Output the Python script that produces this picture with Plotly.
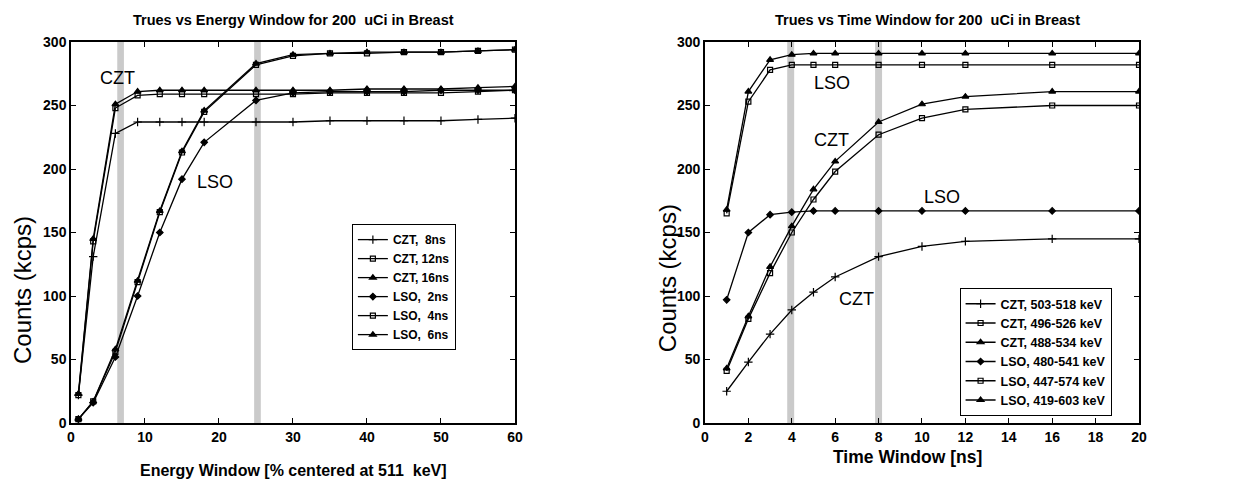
import plotly.graph_objects as go

# ---------------- data ----------------
energy_x = [1, 3, 6, 9, 12, 15, 18, 25, 30, 35, 40, 45, 50, 55, 60]
czt_8ns = [22, 131, 228, 237, 237, 237, 237, 237, 237, 238, 238, 238, 238, 239, 240]
czt_12ns = [22, 143, 248, 258, 259, 259, 259, 259, 259, 260, 260, 260, 260, 261, 262]
czt_16ns = [23, 145, 251, 261, 262, 262, 262, 262, 262, 262, 263, 263, 263, 264, 265]
lso_2ns = [3, 16, 52, 100, 150, 192, 221, 254, 260, 261, 261, 261, 262, 262, 262]
lso_4ns = [3, 17, 56, 111, 166, 213, 245, 282, 289, 291, 291, 292, 292, 293, 294]
lso_6ns = [3, 17, 58, 112, 167, 214, 246, 283, 290, 291, 292, 292, 292, 293, 294]

time_x = [1, 2, 3, 4, 5, 6, 8, 10, 12, 16, 20]
czt_503_518 = [25, 48, 70, 89, 103, 115, 131, 139, 143, 145, 145]
czt_496_526 = [41, 82, 118, 150, 176, 198, 227, 240, 247, 250, 250]
czt_488_534 = [43, 84, 123, 155, 184, 206, 237, 251, 257, 261, 261]
lso_480_541 = [97, 150, 164, 166, 167, 167, 167, 167, 167, 167, 167]
lso_447_574 = [165, 253, 278, 282, 282, 282, 282, 282, 282, 282, 282]
lso_419_603 = [168, 261, 286, 290, 291, 291, 291, 291, 291, 291, 291]

left_names = ["CZT,  8ns", "CZT, 12ns", "CZT, 16ns", "LSO,  2ns", "LSO,  4ns", "LSO,  6ns"]
right_names = ["CZT, 503-518 keV", "CZT, 496-526 keV", "CZT, 488-534 keV",
               "LSO, 480-541 keV", "LSO, 447-574 keV", "LSO, 419-603 keV"]
left_series = [czt_8ns, czt_12ns, czt_16ns, lso_2ns, lso_4ns, lso_6ns]
right_series = [czt_503_518, czt_496_526, czt_488_534, lso_480_541, lso_447_574, lso_419_603]

left_bands = [6.7, 25.2]
right_bands = [3.95, 8.0]

left_labels = [("CZT", 6.3, 272), ("LSO", 19.5, 190)]
right_labels = [("LSO", 5.85, 268), ("CZT", 5.85, 223), ("LSO", 10.9, 178), ("CZT", 7.0, 98)]

energy_ticks = [0, 10, 20, 30, 40, 50, 60]
time_ticks = [0, 2, 4, 6, 8, 10, 12, 14, 16, 18, 20]
count_ticks = [0, 50, 100, 150, 200, 250, 300]

left_title = "Trues vs Energy Window for 200  uCi in Breast"
right_title = "Trues vs Time Window for 200  uCi in Breast"
left_xtitle = "Energy Window [% centered at 511  keV]"
right_xtitle = "Time Window [ns]"
ytitle = "Counts (kcps)"

# ---------------- styles ----------------
symbols = ["cross-thin-open", "square-open", "triangle-up", "diamond", "square-open", "triangle-up"]
msizes = [6, 5, 6, 5, 5, 6]
FONT = "Liberation Sans, Arial, sans-serif"

fig = go.Figure()

for name, ys, sym, ms in zip(left_names, left_series, symbols, msizes):
    fig.add_trace(go.Scatter(
        x=energy_x, y=ys, name=name, mode="lines+markers",
        line=dict(color="black", width=1.3),
        marker=dict(symbol=sym, size=ms, color="black", line=dict(color="black", width=1.2)),
        xaxis="x", yaxis="y", legend="legend"))

for name, ys, sym, ms in zip(right_names, right_series, symbols, msizes):
    fig.add_trace(go.Scatter(
        x=time_x, y=ys, name=name, mode="lines+markers",
        line=dict(color="black", width=1.3),
        marker=dict(symbol=sym, size=ms, color="black", line=dict(color="black", width=1.2)),
        xaxis="x2", yaxis="y2", legend="legend2"))

shapes = []
for b in left_bands:
    shapes.append(dict(type="rect", xref="x", yref="y", x0=b - 0.45, x1=b + 0.45, y0=0, y1=300,
                       fillcolor="rgba(150,150,150,0.5)", line=dict(width=0), layer="below"))
for b in right_bands:
    shapes.append(dict(type="rect", xref="x2", yref="y2", x0=b - 0.16, x1=b + 0.16, y0=0, y1=300,
                       fillcolor="rgba(150,150,150,0.5)", line=dict(width=0), layer="below"))

annotations = []
for t, x, y in left_labels:
    annotations.append(dict(text=t, x=x, y=y, xref="x", yref="y", showarrow=False,
                            font=dict(size=18, color="black", family=FONT)))
for t, x, y in right_labels:
    annotations.append(dict(text=t, x=x, y=y, xref="x2", yref="y2", showarrow=False,
                            font=dict(size=18, color="black", family=FONT)))

def txt(text, x, y, size, bold=True, angle=0):
    return dict(text=text, x=x, y=y, xref="paper", yref="paper", xanchor="center", yanchor="middle",
                showarrow=False, textangle=angle,
                font=dict(size=size, color="black", family=FONT, weight="bold" if bold else "normal"))

annotations += [
    txt(left_title, 0.2079, 1.0577, 14.5),
    txt(right_title, 0.8015, 1.0577, 14.5),
    txt(left_xtitle, 0.2079, -0.1234, 16),
    txt(right_xtitle, 0.7828, -0.0892, 17.5),
    txt(ytitle, -0.0459, 0.349, 24, bold=False, angle=-90),
    txt(ytitle, 0.558, 0.380, 24, bold=False, angle=-90),
]

axis_common = dict(showline=True, linecolor="black", linewidth=1.5, mirror="ticks", ticks="inside",
                   ticklen=5, tickcolor="black", showgrid=False, zeroline=False, automargin=False,
                   tickfont=dict(size=14, color="black", family=FONT, weight="bold"))

fig.update_layout(
    width=1249, height=472,
    margin=dict(l=63, r=118, t=34, b=57),
    paper_bgcolor="white", plot_bgcolor="white",
    font=dict(family=FONT, color="black"),
    showlegend=True,
    shapes=shapes, annotations=annotations,
    xaxis=dict(domain=[0, 0.4157], range=[0, 60], tickvals=energy_ticks, anchor="y", **axis_common),
    yaxis=dict(domain=[0, 1], range=[0, 300], tickvals=count_ticks, anchor="x", **axis_common),
    xaxis2=dict(domain=[0.5936, 1], range=[0, 20], tickvals=time_ticks, anchor="y2", **axis_common),
    yaxis2=dict(domain=[0, 1], range=[0, 300], tickvals=count_ticks, anchor="x2", **axis_common),
    legend=dict(x=0.263, y=0.522, xanchor="left", yanchor="top", bgcolor="white",
                bordercolor="black", borderwidth=1, tracegroupgap=0, itemwidth=30,
                font=dict(size=12, color="black", family=FONT, weight="bold")),
    legend2=dict(x=0.832, y=0.354, xanchor="left", yanchor="top", bgcolor="white",
                 bordercolor="black", borderwidth=1, tracegroupgap=0, itemwidth=30,
                 font=dict(size=12.5, color="black", family=FONT, weight="bold")),
)

fig.write_html("out.html")
